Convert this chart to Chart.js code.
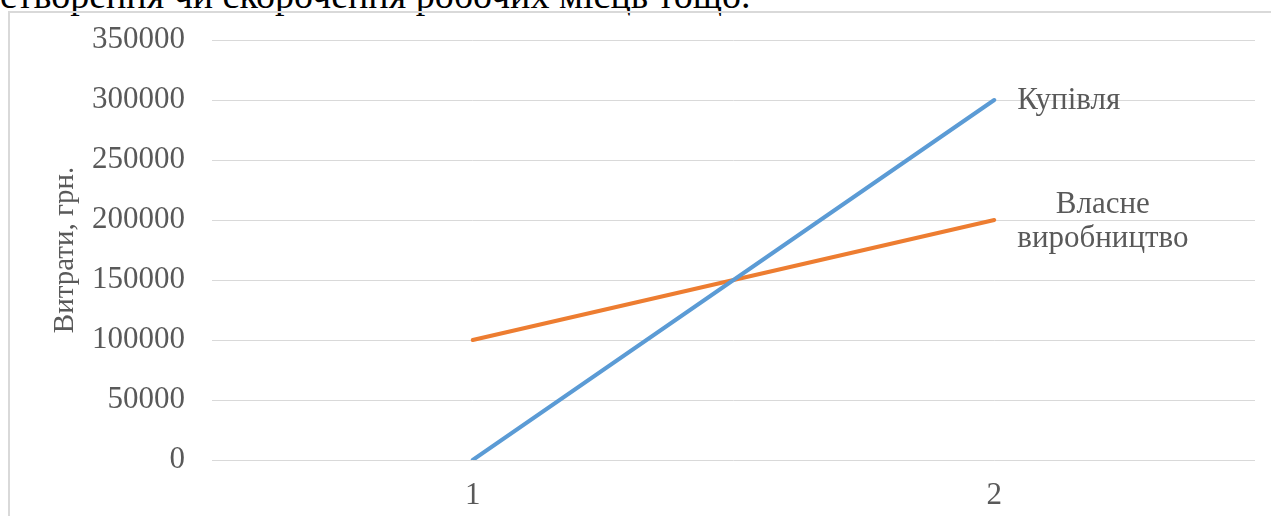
<!DOCTYPE html>
<html>
<head>
<meta charset="utf-8">
<script src="https://cdn.jsdelivr.net/npm/chart.js@4/dist/chart.umd.min.js"></script>
<style>
  html, body { margin: 0; padding: 0; background: #ffffff; overflow: hidden; }
  #page { position: relative; width: 1271px; height: 516px; overflow: hidden; }
  #lead {
    position: absolute; left: 0; top: -24px; white-space: nowrap;
    font-family: "Liberation Serif", "Times New Roman", serif;
    font-size: 38px; line-height: 38px; color: #000;
  }
  #frame {
    position: absolute; left: 8px; top: 11px; width: 1400px; height: 600px;
    border: 2px solid #d9d9d9; box-sizing: border-box;
  }
  #wrap { position: absolute; left: 0; top: 0; width: 1271px; height: 516px; }
</style>
</head>
<body>
<div id="page">
  <div id="lead">створення чи скорочення робочих місць тощо.</div>
  <div id="frame"></div>
  <div id="wrap"><canvas id="c"></canvas></div>
</div>
<script>
// Scenario points on the x axis
const categories = ['1', '2'];
// Costs of buying the item vs. making it in-house, UAH
const purchaseCosts = [0, 300000];
const ownProductionCosts = [100000, 200000];
const seriesNames = ['Купівля', 'Власне виробництво'];
const yTicks = [0, 50000, 100000, 150000, 200000, 250000, 300000, 350000];
const yTitle = 'Витрати, грн.';

const FONT = '"Liberation Serif", "Times New Roman", serif';
const GREY = '#595959';
const SIZE = 31;

// Series names written next to the last point of each line
const endLabels = {
  id: 'endLabels',
  afterDatasetsDraw(chart) {
    const ctx = chart.ctx;
    const xs = chart.scales.x, ys = chart.scales.y;
    ctx.save();
    ctx.font = SIZE + 'px ' + FONT;
    ctx.fillStyle = GREY;
    ctx.textBaseline = 'middle';
    // Купівля
    const x1 = xs.getPixelForValue(1);
    const y1 = ys.getPixelForValue(purchaseCosts[1]);
    ctx.textAlign = 'left';
    ctx.fillText(seriesNames[0], x1 + 23, y1 + 1);
    // Власне виробництво (two lines, centred on each other)
    const y2 = ys.getPixelForValue(ownProductionCosts[1]);
    const words = seriesNames[1].split(' ');
    const w2 = ctx.measureText(words[1]).width;
    const left = x1 + 23;
    const cx = left + w2 / 2;
    ctx.textAlign = 'center';
    ctx.fillText(words[0], cx, y2 - 15);
    ctx.fillText(words[1], cx, y2 + 19);
    ctx.restore();
  }
};

new Chart(document.getElementById('c'), {
  type: 'line',
  data: {
    labels: categories,
    datasets: [
      {
        label: seriesNames[0],
        data: purchaseCosts,
        borderColor: '#5B9BD5',
        backgroundColor: '#5B9BD5',
        borderWidth: 4,
        borderCapStyle: 'round',
        pointRadius: 0,
        tension: 0
      },
      {
        label: seriesNames[1],
        data: ownProductionCosts,
        borderColor: '#ED7D31',
        backgroundColor: '#ED7D31',
        borderWidth: 4,
        borderCapStyle: 'round',
        pointRadius: 0,
        tension: 0
      }
    ]
  },
  options: {
    responsive: true,
    maintainAspectRatio: false,
    animation: false,
    events: [],
    layout: { padding: { left: 0, right: 16, top: 40, bottom: 0 } },
    plugins: {
      legend: { display: false },
      tooltip: { enabled: false }
    },
    scales: {
      x: {
        offset: true,
        grid: { display: false, drawTicks: false },
        border: { display: false },
        ticks: {
          color: GREY,
          font: { family: FONT, size: SIZE },
          padding: 17
        },
        afterFit(scale) {
          scale.height = 56;
          scale.paddingLeft = 0;
          scale.paddingRight = 0;
        }
      },
      y: {
        min: 0,
        max: 350000,
        afterBuildTicks(scale) { scale.ticks = yTicks.map(v => ({ value: v })); },
        grid: { color: '#d9d9d9', lineWidth: 1, drawTicks: false },
        border: { display: false },
        ticks: {
          color: GREY,
          font: { family: FONT, size: SIZE },
          padding: 27,
          callback: (v) => String(v)
        },
        title: {
          display: true,
          text: yTitle,
          color: GREY,
          font: { family: FONT, size: 29 },
          padding: { top: 48, bottom: 0 }
        },
        afterFit(scale) {
          scale.width = 212;
          scale.paddingTop = 0;
          scale.paddingBottom = 0;
        }
      }
    }
  },
  plugins: [endLabels]
});
</script>
</body>
</html>
